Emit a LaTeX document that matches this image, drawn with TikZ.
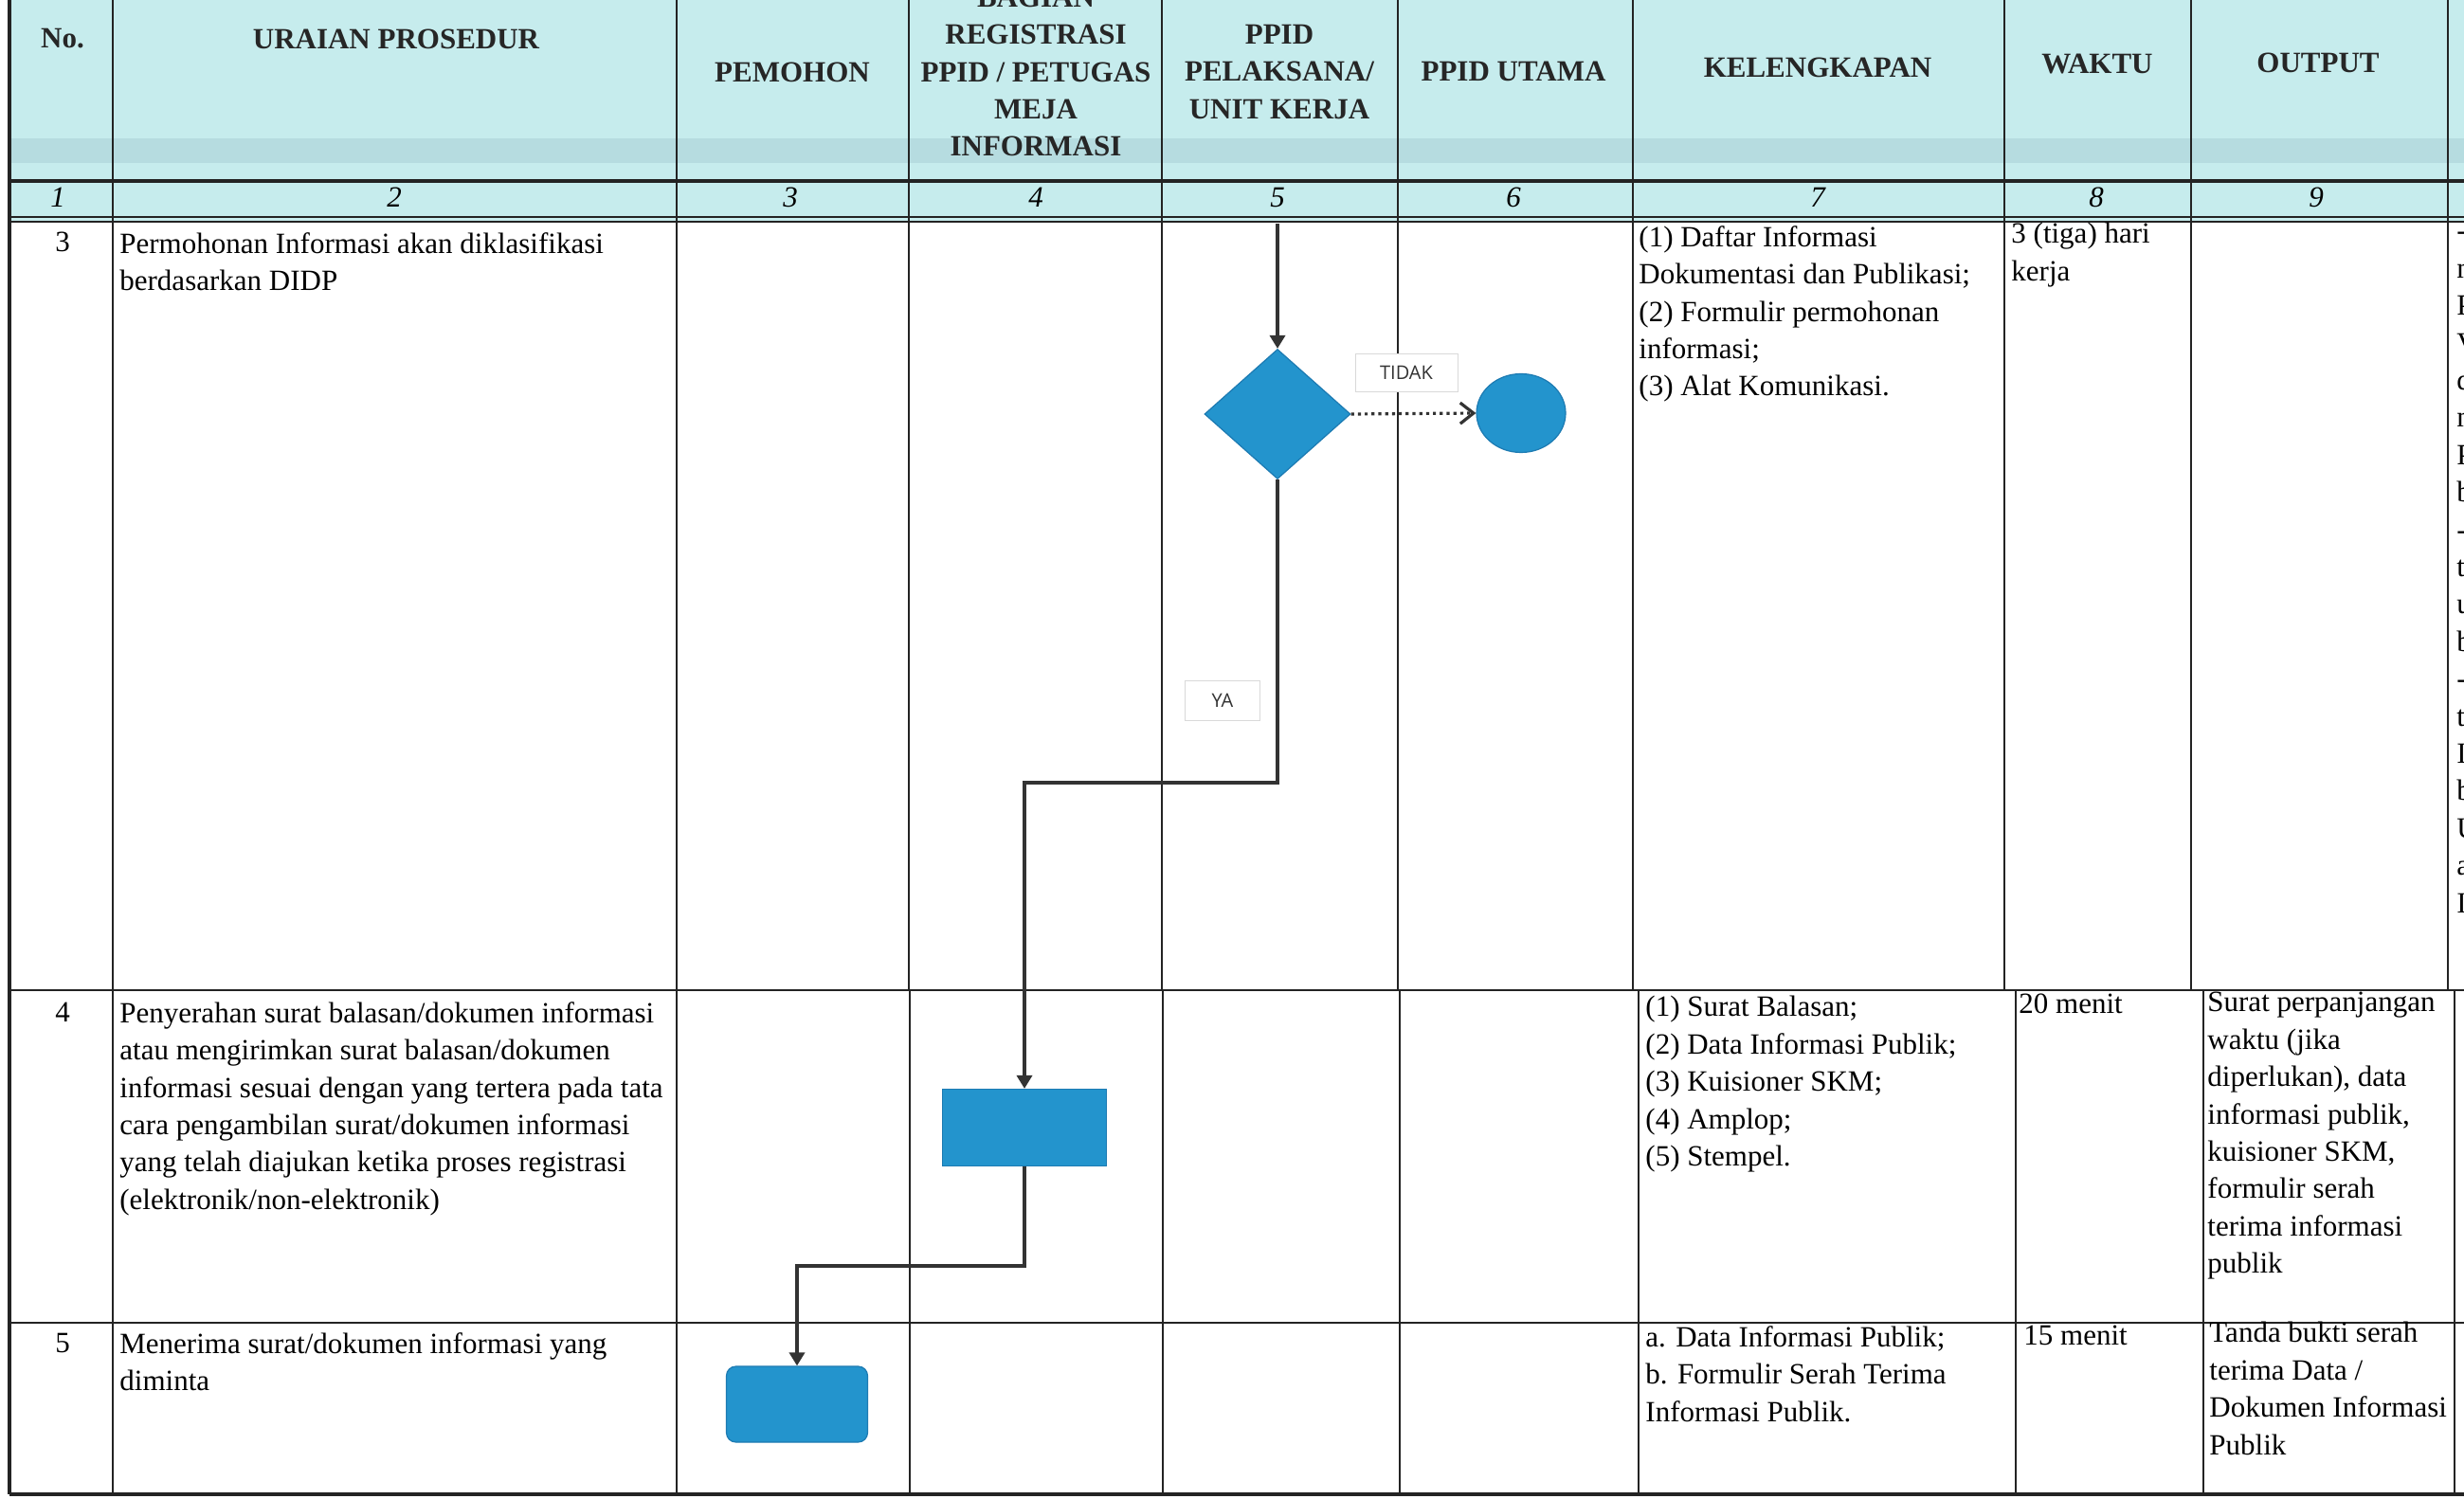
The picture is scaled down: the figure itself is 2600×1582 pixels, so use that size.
\documentclass[tikz,border=0pt]{standalone}
\usepackage{fontspec}
\setmainfont{Liberation Serif}
\newfontfamily\labelfont{Open Sans}
\usetikzlibrary{shapes.geometric,arrows.meta,positioning}

\definecolor{flowblue}{RGB}{35,148,205}
\definecolor{flowedge}{RGB}{28,122,178}
\definecolor{headcyan}{RGB}{198,236,237}
\definecolor{scanband}{RGB}{120,160,175}
\definecolor{inkline}{RGB}{35,35,35}

\begin{document}
\begin{tikzpicture}[x=0.5pt, y=-0.5pt,
    grid/.style={draw=inkline, line width=1.4pt},
    head/.style={font=\fontsize{15.5}{19.7}\selectfont\bfseries, align=center, inner sep=0pt, text=black!85},
    colno/.style={font=\fontsize{15.5}{19.7}\selectfont\itshape, inner sep=0pt, anchor=base},
    numcell/.style={font=\fontsize{15.5}{19.7}\selectfont, inner sep=0pt, anchor=base},
    cell/.style={font=\fontsize{15.5}{19.7}\selectfont, align=left, anchor=north west, inner sep=0pt, execute at begin node=\strut},
    decision/.style={diamond, fill=flowblue, draw=flowedge, line width=0.6pt, minimum width=77pt, minimum height=68.5pt, inner sep=0pt},
    endpoint/.style={ellipse, fill=flowblue, draw=flowedge, line width=0.6pt, minimum width=47pt, minimum height=41.5pt, inner sep=0pt},
    process/.style={rectangle, fill=flowblue, draw=flowedge, line width=0.6pt, minimum width=86.5pt, minimum height=40.5pt, inner sep=0pt},
    terminal/.style={rectangle, rounded corners=5pt, fill=flowblue, draw=flowedge, line width=0.6pt, minimum width=74.5pt, minimum height=40pt, inner sep=0pt},
    flow/.style={draw=black!80, line width=2pt, -{Triangle[width=8pt,length=7pt]}},
    noflow/.style={draw=black!80, line width=1.6pt, dotted, -{Straight Barb[length=7pt,width=11pt]}},
    tag/.style={draw=black!15, fill=white, font=\labelfont\fontsize{10}{12}\selectfont, text=black!80, inner sep=0pt}
]
\useasboundingbox (0,0) rectangle (2600,1582);
\fill[white] (0,0) rectangle (2600,1582);

% Header background
\fill[headcyan] (10,0) rectangle (2600,234);
\fill[scanband, opacity=0.2] (10,146) rectangle (2600,172);

% Table lines
\draw[grid] (119,0) -- (119,1045) (714,0) -- (714,1045) (959,0) -- (959,1045)
    (1226,0) -- (1226,1045) (1475,0) -- (1475,1045) (1723,0) -- (1723,1045)
    (2115,0) -- (2115,1045) (2312,0) -- (2312,1045) (2583,0) -- (2583,1045);
\draw[grid] (119,1045) -- (119,1577) (714,1045) -- (714,1577) (960,1045) -- (960,1577)
    (1227,1045) -- (1227,1577) (1477,1045) -- (1477,1577) (1729,1045) -- (1729,1577)
    (2127,1045) -- (2127,1577) (2325,1045) -- (2325,1577) (2590,1045) -- (2590,1577);
\draw[grid, line width=2pt] (10,0) -- (10,1577);
\draw[grid, line width=2.2pt] (10,191) -- (2600,191);
\draw[grid] (10,229) -- (2600,229) (10,234) -- (2600,234);
\draw[grid] (10,1045) -- (2600,1045) (10,1396) -- (2600,1396);
\draw[grid, line width=2.2pt] (10,1577) -- (2600,1577);

% Column titles
\node[head] (hno) at (66,41) {No.};
\node[head] (hur) at (418,41) {URAIAN PROSEDUR};
\node[head] (hpm) at (836,76) {PEMOHON};
\node[head] (hreg) at (1093,76) {BAGIAN\\REGISTRASI\\PPID / PETUGAS\\MEJA\\INFORMASI};
\node[head] (hpl) at (1350,76) {PPID\\PELAKSANA/\\UNIT KERJA};
\node[head] (hut) at (1597,75) {PPID UTAMA};
\node[head] (hkl) at (1918,71) {KELENGKAPAN};
\node[head] (hwk) at (2213,68) {WAKTU};
\node[head] (hout) at (2446,66) {OUTPUT};

% Column numbers
\node[colno] (n1) at (61,219) {1};
\node[colno] (n2) at (416,219) {2};
\node[colno] (n3) at (834,219) {3};
\node[colno] (n4) at (1093,219) {4};
\node[colno] (n5) at (1348,219) {5};
\node[colno] (n6) at (1597,219) {6};
\node[colno] (n7) at (1918,219) {7};
\node[colno] (n8) at (2212,219) {8};
\node[colno] (n9) at (2444,219) {9};

% Row 3
\node[numcell] (no3) at (66,266) {3};
\node[cell] (pr3) at (126,245) {Permohonan Informasi akan diklasifikasi\\berdasarkan DIDP};
\node[cell] (kl3) at (1729,238) {(1) Daftar Informasi\\Dokumentasi dan Publikasi;\\(2) Formulir permohonan\\informasi;\\(3) Alat Komunikasi.};
\node[cell] (wk3) at (2122,235) {3 (tiga) hari\\kerja};
\node[cell] (cut3) at (2592,245) {-\\m\\P\\V\\d\\m\\P\\b\\-\\t\\u\\b\\-\\t\\I\\b\\U\\a\\I};

% Row 4
\node[numcell] (no4) at (66,1078) {4};
\node[cell] (pr4) at (126,1057) {Penyerahan surat balasan/dokumen informasi\\atau mengirimkan surat balasan/dokumen\\informasi sesuai dengan yang tertera pada tata\\cara pengambilan surat/dokumen informasi\\yang telah diajukan ketika proses registrasi\\(elektronik/non-elektronik)};
\node[cell] (kl4) at (1736,1051) {(1) Surat Balasan;\\(2) Data Informasi Publik;\\(3) Kuisioner SKM;\\(4) Amplop;\\(5) Stempel.};
\node[cell] (wk4) at (2130,1042) {20 menit};
\node[cell] (out4) at (2329,1047) {Surat perpanjangan\\waktu (jika\\diperlukan), data\\informasi publik,\\kuisioner SKM,\\formulir serah\\terima informasi\\publik};

% Row 5
\node[numcell] (no5) at (66,1427) {5};
\node[cell] (pr5) at (126,1406) {Menerima surat/dokumen informasi yang\\diminta};
\node[cell] (kl5) at (1736,1399) {a. Data Informasi Publik;\\b. Formulir Serah Terima\\Informasi Publik.};
\node[cell] (wk5) at (2135,1392) {15 menit};
\node[cell] (out5) at (2331,1395) {Tanda bukti serah\\terima Data /\\Dokumen Informasi\\Publik};

% Flow
\coordinate (entry) at (1348,236);
\node[decision] (cek) at (1348,437) {};
\node[endpoint] (stop) at (1605,436) {};
\node[process] (serah) at (1081,1190) {};
\node[terminal] (terima) at (841,1482) {};
\node[tag, minimum width=54pt, minimum height=20pt] (tidak) at (1484,393) {TIDAK};
\node[tag, minimum width=39.5pt, minimum height=21pt] (ya) at (1290,739) {YA};
\coordinate (turn1) at (1348,826);
\coordinate (turn2) at (1081,1336);

\draw[flow] (entry) -- (cek.north);
\draw[noflow] (cek.east) -- (stop.west);
\draw[flow] (cek.south) -- (turn1) -| (serah.north);
\draw[flow] (serah.south) -- (turn2) -| (terima.north);

\end{tikzpicture}
\end{document}
